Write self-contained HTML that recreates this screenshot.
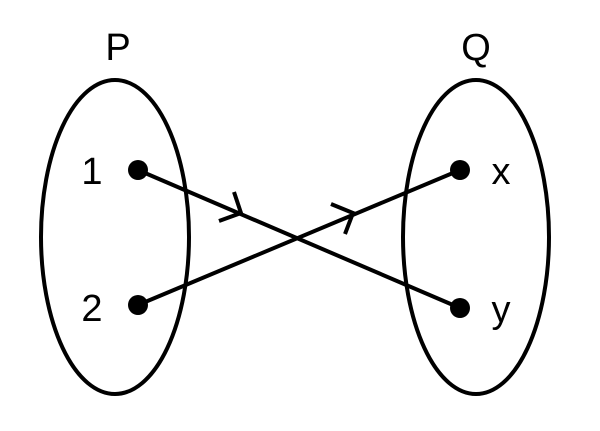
<!DOCTYPE html>
<html><head><style>body{margin:0;background:#fff}</style></head><body>
<svg width="600" height="426" xmlns="http://www.w3.org/2000/svg">
<g fill="none" stroke="#000" stroke-width="4">
<ellipse cx="115" cy="237" rx="74" ry="157"/>
<ellipse cx="476" cy="237" rx="73" ry="157"/>
<line x1="138" y1="170" x2="460" y2="308"/>
<line x1="138" y1="305" x2="460" y2="170"/>
<polyline points="234,192 241,213 219,221"/>
<polyline points="331,204 353,213 345,234"/>
</g>
<g fill="#000">
<circle cx="138" cy="170" r="10"/><circle cx="138" cy="305" r="10"/>
<circle cx="460" cy="170" r="10"/><circle cx="460" cy="308" r="10"/>
</g>
<g font-family="Liberation Sans, sans-serif" font-size="38" text-anchor="middle">
<text x="118" y="60">P</text><text x="476" y="60">Q</text>
<text x="92" y="184">1</text><text x="92" y="321">2</text>
<text x="501" y="184">x</text><text x="501" y="322">y</text>
</g>
</svg>
</body></html>
